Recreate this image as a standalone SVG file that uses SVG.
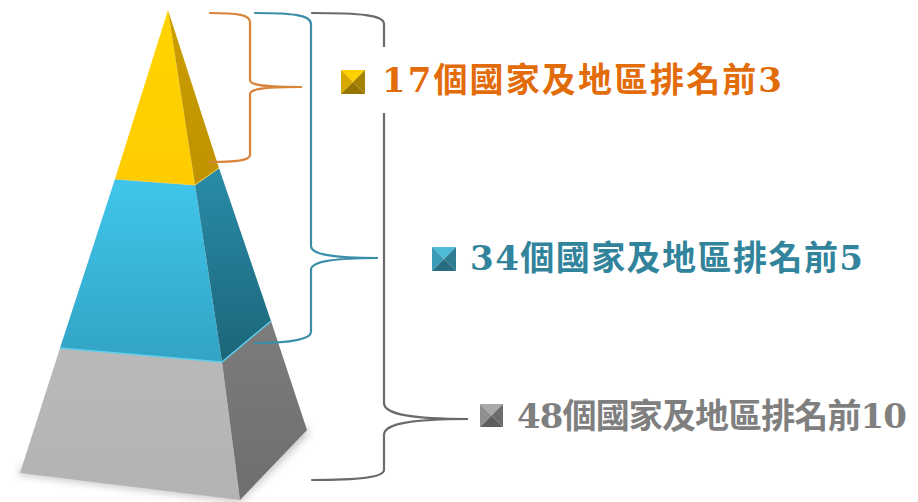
<svg xmlns="http://www.w3.org/2000/svg" width="918" height="502" viewBox="0 0 918 502">
<style>
  .lbl { font-family: "DejaVu Serif", "Noto Sans CJK TC", serif; font-weight: bold; font-size: 34px; }
  .br { fill: none; stroke-width: 2.2; stroke-linecap: round; }
</style>
<defs>
  <linearGradient id="yF" x1="0" y1="0" x2="0" y2="1"><stop offset="0" stop-color="#FFD400"/><stop offset="1" stop-color="#FFCC00"/></linearGradient>
  <linearGradient id="yS" x1="0" y1="0" x2="0" y2="1"><stop offset="0" stop-color="#CC9E00"/><stop offset="1" stop-color="#BF9200"/></linearGradient>
  <linearGradient id="bF" x1="0" y1="0" x2="0" y2="1"><stop offset="0" stop-color="#40C6EC"/><stop offset="1" stop-color="#32A3C4"/></linearGradient>
  <linearGradient id="bS" x1="0" y1="0" x2="0" y2="1"><stop offset="0" stop-color="#2A8CA8"/><stop offset="1" stop-color="#1B6579"/></linearGradient>
  <linearGradient id="gF" x1="0" y1="0" x2="0" y2="1"><stop offset="0" stop-color="#B9B9B9"/><stop offset="1" stop-color="#B3B3B3"/></linearGradient>
  <linearGradient id="gS" x1="0" y1="0" x2="0" y2="1"><stop offset="0" stop-color="#7C7C7C"/><stop offset="1" stop-color="#6E6E6E"/></linearGradient>
  <filter id="sh" x="-20%" y="-20%" width="140%" height="140%"><feGaussianBlur stdDeviation="4"/></filter>
</defs>
<rect width="918" height="502" fill="#FFFFFF"/>

<!-- shadow -->
<polygon points="18,474 240,502 310,432 300,425 240,494 22,466" fill="#000" opacity="0.25" filter="url(#sh)"/>

<g id="tier-bottom">
  <polygon points="60,348 222,362 240,500 20,473" fill="url(#gF)"/>
  <polygon points="222,362 271,321 307,430 240,500" fill="url(#gS)"/>
</g>
<g id="tier-middle">
  <polygon points="115,179 195,185 222,362 60,348" fill="url(#bF)"/>
  <polygon points="195,185 219,168 271,321 222,362" fill="url(#bS)"/>
  <polyline points="60,348 222,362 271,321" fill="none" stroke="#5CCDEA" stroke-width="1.5"/>
</g>
<g id="tier-top">
  <polygon points="168,10 115,179 195,185" fill="url(#yF)"/>
  <polygon points="168,10 195,185 219,168" fill="url(#yS)"/>
  <polyline points="115,179 195,185 219,168" fill="none" stroke="#F2D04A" stroke-width="1"/>
</g>

<g id="connectors">
  <path class="br" stroke="#6A6A6A" d="M312,13 C360,13 384,15 384,24 L384,403 C384,412 400,419 468,419 C400,419 384,426 384,435 L384,470 C384,477 360,480 312,480"/>
  <path class="br" stroke="#3B8EA8" d="M255,13 C292,13 311,15 311,24 L311,246 C311,253 326,258 378,258 C326,258 311,263 311,270 L311,332 C311,339 292,343 255,343"/>
  <path class="br" stroke="#D8843A" d="M210,13 C238,13 250,15 250,22 L250,80 C250,85 262,87 302,87 C262,87 250,89 250,94 L250,155 C250,160 238,162 210,162"/>
</g>

<g id="label-top">
  <rect x="332" y="47" width="470" height="66" fill="#FFFFFF"/>
  <polygon points="341,70 365,70 353,82" fill="#FFD000"/>
  <polygon points="341,70 353,82 341,94" fill="#D7A900"/>
  <polygon points="365,70 365,94 353,82" fill="#A58300"/>
  <polygon points="341,94 365,94 353,82" fill="#957500"/>
  <text class="lbl" x="382" y="92" fill="#E36C0A" textLength="400" lengthAdjust="spacing">17個國家及地區排名前3</text>
</g>
<g id="label-middle">
  <polygon points="432,247 456,247 444,259" fill="#4DBBD8"/>
  <polygon points="432,247 444,259 432,271" fill="#3A9CB8"/>
  <polygon points="456,247 456,271 444,259" fill="#2E7D93"/>
  <polygon points="432,271 456,271 444,259" fill="#286C80"/>
  <text class="lbl" x="470" y="270" fill="#31849B" textLength="393" lengthAdjust="spacing">34個國家及地區排名前5</text>
</g>
<g id="label-bottom">
  <polygon points="480,404 503,404 491.5,415.5" fill="#A9A9A9"/>
  <polygon points="480,404 491.5,415.5 480,427" fill="#8F8F8F"/>
  <polygon points="503,404 503,427 491.5,415.5" fill="#6C6C6C"/>
  <polygon points="480,427 503,427 491.5,415.5" fill="#5E5E5E"/>
  <text class="lbl" x="517" y="428" fill="#7F7F7F" textLength="390" lengthAdjust="spacing">48個國家及地區排名前10</text>
</g>
</svg>
